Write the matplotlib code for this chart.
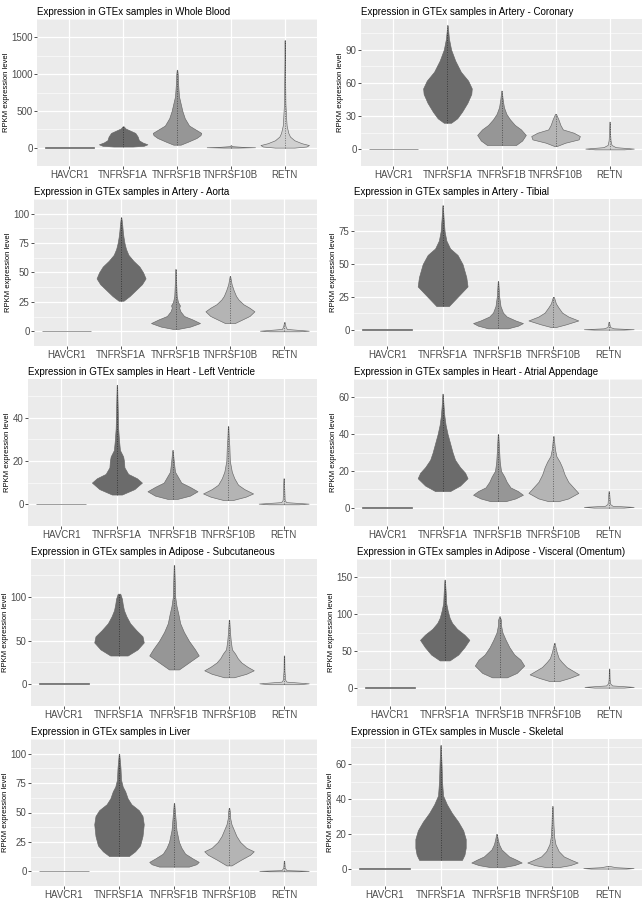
import numpy as np
import matplotlib

matplotlib.use('Agg')

import matplotlib.pyplot as plt

plt.rcParams['font.family'] = ['Liberation Sans', 'DejaVu Sans']

genes = ['HAVCR1', 'TNFRSF1A', 'TNFRSF1B', 'TNFRSF10B', 'RETN']
fills = ['#5a5a5a', '#6b6b6b', '#969696', '#b4b4b4', '#d0d0d0']

# each violin is (expression levels, relative width at that level)
whole_blood = [
    ([0, 3], [1, 1]),
    ([15, 25, 45, 70, 100, 150, 200, 230, 260, 290],
     [0.4, 0.85, 1.0, 0.8, 0.65, 0.6, 0.5, 0.3, 0.1, 0.02]),
    ([40, 80, 130, 170, 200, 240, 300, 400, 500, 600, 700, 850, 1000, 1060],
     [0.15, 0.45, 0.8, 0.97, 1.0, 0.8, 0.5, 0.32, 0.22, 0.15, 0.08, 0.05, 0.03, 0.01]),
    ([0, 5, 10, 20, 30], [0.3, 1.0, 0.5, 0.05, 0.02]),
    ([0, 15, 35, 60, 100, 150, 200, 300, 400, 600, 900, 1200, 1460],
     [0.4, 0.9, 1.0, 0.7, 0.4, 0.22, 0.15, 0.08, 0.06, 0.03, 0.02, 0.01, 0.01]),
]
artery_coronary = [
    ([0, 0.5], [1, 1]),
    ([24, 28, 34, 42, 50, 55, 62, 70, 80, 90, 100, 112],
     [0.15, 0.4, 0.6, 0.82, 0.98, 1.0, 0.85, 0.55, 0.32, 0.15, 0.06, 0.01]),
    ([4, 8, 13, 18, 22, 27, 32, 38, 45, 53],
     [0.6, 0.85, 1.0, 0.8, 0.55, 0.35, 0.2, 0.1, 0.05, 0.01]),
    ([3, 6, 9, 12, 15, 18, 22, 27, 32],
     [0.05, 0.4, 0.95, 1.0, 0.75, 0.3, 0.2, 0.12, 0.02]),
    ([0, 0.7, 2, 4, 8, 15, 25], [0.6, 1.0, 0.25, 0.08, 0.04, 0.02, 0.01]),
]
artery_aorta = [
    ([0, 0.3], [1, 1]),
    ([26, 30, 35, 40, 45, 50, 55, 60, 65, 70, 75, 80, 85, 90, 97],
     [0.1, 0.35, 0.6, 0.85, 1.0, 0.9, 0.75, 0.5, 0.3, 0.2, 0.14, 0.1, 0.07, 0.05, 0.01]),
    ([2, 4, 7, 10, 13, 17, 20, 22, 25, 30, 40, 53],
     [0.1, 0.6, 1.0, 0.7, 0.35, 0.2, 0.15, 0.18, 0.1, 0.05, 0.03, 0.01]),
    ([7, 10, 13, 17, 20, 23, 27, 30, 35, 40, 47],
     [0.2, 0.5, 0.8, 1.0, 0.8, 0.55, 0.35, 0.25, 0.15, 0.07, 0.01]),
    ([0, 0.5, 2, 4, 8], [0.6, 1.0, 0.1, 0.05, 0.01]),
]
artery_tibial = [
    ([0, 0.3], [1, 1]),
    ([18, 25, 33, 40, 50, 57, 62, 68, 75, 85, 95],
     [0.25, 0.6, 1.0, 0.95, 0.8, 0.6, 0.3, 0.15, 0.08, 0.04, 0.01]),
    ([1, 3, 5, 7, 10, 13, 18, 25, 37],
     [0.4, 0.8, 1.0, 0.7, 0.35, 0.2, 0.1, 0.05, 0.01]),
    ([2, 4, 7, 10, 13, 17, 20, 25],
     [0.1, 0.5, 1.0, 0.6, 0.35, 0.2, 0.1, 0.02]),
    ([0, 0.3, 1, 2, 6], [0.6, 1.0, 0.2, 0.05, 0.01]),
]
heart_ventricle = [
    ([0, 0.2], [1, 1]),
    ([4.5, 7, 10, 12, 14, 17, 20, 22, 25, 30, 35, 45, 55],
     [0.2, 0.7, 1.0, 0.8, 0.45, 0.3, 0.28, 0.25, 0.12, 0.08, 0.05, 0.03, 0.01]),
    ([2.5, 4, 6, 8, 10, 12, 15, 20, 25],
     [0.2, 0.7, 1.0, 0.7, 0.35, 0.25, 0.1, 0.05, 0.01]),
    ([2, 3.5, 5, 7, 9, 12, 15, 20, 27, 30, 36],
     [0.2, 0.7, 1.0, 0.65, 0.4, 0.25, 0.15, 0.07, 0.05, 0.03, 0.01]),
    ([0, 0.3, 1, 2, 12], [0.6, 1.0, 0.1, 0.04, 0.01]),
]
heart_atrial = [
    ([0, 0.2], [1, 1]),
    ([9, 12, 16, 19, 22, 26, 30, 35, 40, 45, 50, 55, 62],
     [0.3, 0.7, 1.0, 0.9, 0.7, 0.5, 0.4, 0.3, 0.2, 0.12, 0.07, 0.04, 0.01]),
    ([3.5, 5, 7, 9, 11, 14, 17, 20, 25, 30, 40],
     [0.3, 0.7, 1.0, 0.8, 0.5, 0.35, 0.25, 0.12, 0.07, 0.05, 0.01]),
    ([3.5, 5, 8, 11, 14, 18, 22, 25, 28, 32, 39],
     [0.2, 0.6, 1.0, 0.8, 0.6, 0.45, 0.35, 0.25, 0.12, 0.06, 0.01]),
    ([0, 0.4, 1, 2, 9], [0.6, 1.0, 0.15, 0.05, 0.01]),
]
adipose_subcutaneous = [
    ([0, 1], [1, 1]),
    ([33, 40, 48, 55, 62, 70, 78, 85, 92, 98, 104],
     [0.35, 0.75, 1.0, 0.95, 0.7, 0.45, 0.3, 0.2, 0.15, 0.12, 0.05]),
    ([17, 25, 33, 40, 50, 60, 70, 80, 90, 100, 110, 137],
     [0.2, 0.6, 1.0, 0.85, 0.6, 0.4, 0.25, 0.18, 0.1, 0.05, 0.04, 0.01]),
    ([8, 12, 16, 20, 25, 30, 35, 40, 50, 60, 74],
     [0.2, 0.7, 1.0, 0.75, 0.5, 0.35, 0.25, 0.12, 0.07, 0.04, 0.01]),
    ([0, 1, 3, 5, 15, 33], [0.6, 1.0, 0.1, 0.05, 0.02, 0.01]),
]
adipose_visceral = [
    ([0, 1], [1, 1]),
    ([37, 45, 55, 65, 72, 80, 88, 95, 105, 115, 130, 147],
     [0.2, 0.55, 0.8, 1.0, 0.8, 0.5, 0.3, 0.2, 0.12, 0.06, 0.04, 0.01]),
    ([14, 20, 30, 38, 45, 55, 65, 75, 85, 92, 97],
     [0.3, 0.7, 1.0, 0.85, 0.6, 0.4, 0.25, 0.12, 0.06, 0.06, 0.01]),
    ([9, 13, 18, 23, 28, 35, 40, 48, 55, 61],
     [0.2, 0.6, 1.0, 0.75, 0.5, 0.3, 0.18, 0.1, 0.05, 0.01]),
    ([0, 1, 3, 6, 12, 26], [0.6, 1.0, 0.12, 0.04, 0.02, 0.01]),
]
liver = [
    ([0, 0.3], [1, 1]),
    ([13, 17, 22, 30, 40, 47, 52, 57, 62, 68, 72, 78, 88, 100],
     [0.4, 0.65, 0.85, 0.95, 1.0, 0.95, 0.8, 0.5, 0.35, 0.25, 0.15, 0.08, 0.06, 0.01]),
    ([4, 6, 8, 11, 15, 20, 25, 30, 35, 40, 45, 58],
     [0.6, 0.9, 1.0, 0.75, 0.45, 0.3, 0.2, 0.15, 0.1, 0.08, 0.06, 0.01]),
    ([5, 10, 14, 17, 20, 25, 30, 35, 40, 45, 50, 54],
     [0.1, 0.5, 0.85, 1.0, 0.7, 0.45, 0.3, 0.2, 0.1, 0.05, 0.04, 0.01]),
    ([0, 0.4, 1, 3, 9], [0.6, 1.0, 0.1, 0.03, 0.01]),
]
muscle_skeletal = [
    ([0, 0.2], [1, 1]),
    ([5, 8, 12, 17, 22, 27, 32, 37, 42, 50, 60, 71],
     [0.85, 0.95, 1.0, 1.0, 0.9, 0.7, 0.45, 0.25, 0.1, 0.06, 0.04, 0.01]),
    ([1, 2, 3.5, 5, 7, 9, 11, 14, 17, 20],
     [0.3, 0.7, 1.0, 0.8, 0.5, 0.35, 0.2, 0.1, 0.05, 0.01]),
    ([1, 2, 3.5, 5, 7, 10, 14, 18, 25, 30, 36],
     [0.3, 0.7, 1.0, 0.75, 0.45, 0.25, 0.12, 0.07, 0.04, 0.03, 0.01]),
    ([0, 0.3, 0.8, 1.5], [0.7, 1.0, 0.3, 0.05]),
]

tissues = ['Whole Blood', 'Artery - Coronary', 'Artery - Aorta', 'Artery - Tibial',
           'Heart - Left Ventricle', 'Heart - Atrial Appendage', 'Adipose - Subcutaneous',
           'Adipose - Visceral (Omentum)', 'Liver', 'Muscle - Skeletal']
violins = [whole_blood, artery_coronary, artery_aorta, artery_tibial, heart_ventricle,
           heart_atrial, adipose_subcutaneous, adipose_visceral, liver, muscle_skeletal]
yticks = [[0, 500, 1000, 1500], [0, 30, 60, 90], [0, 25, 50, 75, 100], [0, 25, 50, 75],
          [0, 20, 40], [0, 20, 40, 60], [0, 50, 100], [0, 50, 100, 150],
          [0, 25, 50, 75, 100], [0, 20, 40, 60]]

# panel left edges in pixels (they depend on the tick label width)
lefts = [37, 361, 34, 354, 28, 354, 31, 357, 31, 351]

W, H = 644, 900
fig = plt.figure(figsize=(W / 100, H / 100), dpi=100)

for k, tissue in enumerate(tissues):
    r, c = divmod(k, 2)
    left = lefts[k]
    right = 317 if c == 0 else 642
    top = 180 * r + 19
    bottom = 180 * r + 166
    ax = fig.add_axes([left / W, 1 - bottom / H, (right - left) / W, (bottom - top) / H])
    ax.set_facecolor('#EBEBEB')
    for s in ax.spines.values():
        s.set_visible(False)

    lo = min(min(v[0]) for v in violins[k])
    hi = max(max(v[0]) for v in violins[k])
    pad = (hi - lo) * 0.05
    ax.set_ylim(lo - pad, hi + pad)
    ax.set_xlim(0.4, len(genes) + 0.6)

    ticks = yticks[k]
    step = ticks[1] - ticks[0]
    minors = [t + step / 2 for t in ticks] + [ticks[0] - step / 2]
    ax.set_yticks(ticks)
    ax.set_yticks(minors, minor=True)
    ax.set_xticks(range(1, len(genes) + 1))
    ax.set_xticklabels(genes)
    ax.grid(True, which='major', color='white', lw=0.9)
    ax.grid(True, which='minor', axis='y', color='white', lw=0.4)
    ax.set_axisbelow(True)
    ax.tick_params(which='major', length=2, width=0.6, color='#333333',
                   labelsize=7, labelcolor='#4D4D4D', pad=1.2)
    ax.tick_params(which='minor', length=0)

    for i, (ys, ws) in enumerate(violins[k]):
        x = i + 1
        hw = 0.45 * np.array(ws)
        ax.fill_betweenx(ys, x - hw, x + hw, facecolor=fills[i],
                         edgecolor='#666666', lw=0.45, zorder=2)
        if i > 0:
            ax.plot([x, x], [ys[0], ys[-1]], color='black', lw=0.7,
                    ls=(0, (1, 1.5)), alpha=0.45, zorder=3)

    ax.set_title('Expression in GTEx samples in ' + tissue, loc='left',
                 fontsize=7, pad=3)
    ax.set_ylabel('RPKM expression level', fontsize=5.5, labelpad=1)

fig.savefig('out.png', dpi=100)
